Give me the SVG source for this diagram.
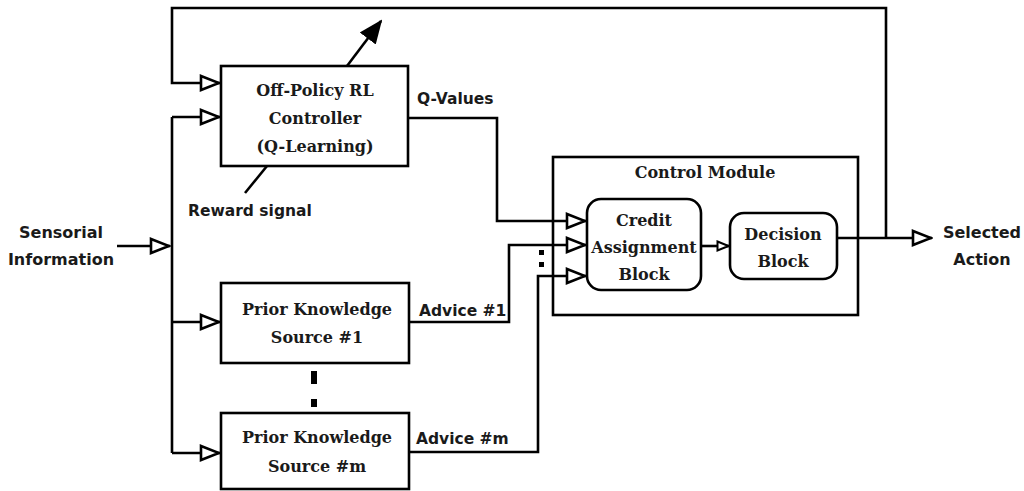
<svg xmlns="http://www.w3.org/2000/svg" width="1024" height="491" viewBox="0 0 1024 491">
<style>
.box{fill:#fff;stroke:#000;stroke-width:2.6}
.frame{fill:none;stroke:#000;stroke-width:2.6}
.ln{fill:none;stroke:#000;stroke-width:2.6}
.serif{font-family:"DejaVu Serif","Liberation Serif",serif;font-size:16px;font-weight:bold;text-anchor:middle;fill:#1a1a1a}
.sans{font-family:"DejaVu Sans","Liberation Sans",sans-serif;font-size:15.5px;font-weight:bold;fill:#1a1a1a}
.big{font-size:16px}
.mid{text-anchor:middle}
</style>
<defs>
<marker id="tri" viewBox="0 0 22 18" refX="21" refY="9" markerWidth="22" markerHeight="18" markerUnits="userSpaceOnUse" orient="auto">
<path d="M2,2 L20,9 L2,16 Z" fill="#fff" stroke="#000" stroke-width="2.6"/>
</marker>
<marker id="tris" viewBox="0 0 14 12" refX="13" refY="6" markerWidth="14" markerHeight="12" markerUnits="userSpaceOnUse" orient="auto">
<path d="M1.5,1.5 L12.5,6 L1.5,10.5 Z" fill="#fff" stroke="#000" stroke-width="2"/>
</marker>
<marker id="fill" viewBox="0 0 24 22" refX="22" refY="11" markerWidth="24" markerHeight="22" markerUnits="userSpaceOnUse" orient="auto">
<path d="M0,1 L24,11 L0,21 Z" fill="#000"/>
</marker>
</defs>

<g id="control-module">
<rect class="frame" x="553" y="157" width="305" height="158"/>
<text class="serif" x="705" y="178">Control Module</text>
</g>

<g id="rl-controller">
<rect class="box" x="221" y="66" width="187" height="100"/>
<text class="serif" x="315" y="96">Off-Policy RL</text>
<text class="serif" x="315" y="124">Controller</text>
<text class="serif" x="315" y="152">(Q-Learning)</text>
</g>

<g id="prior-1">
<rect class="box" x="221" y="283" width="188" height="80"/>
<text class="serif" x="317" y="315">Prior Knowledge</text>
<text class="serif" x="317" y="343">Source #1</text>
</g>

<g id="prior-m">
<rect class="box" x="221" y="413" width="188" height="76"/>
<text class="serif" x="317" y="443">Prior Knowledge</text>
<text class="serif" x="317" y="472">Source #m</text>
</g>

<g id="credit">
<rect class="box" x="587" y="199" width="114" height="91" rx="14"/>
<text class="serif" x="644" y="226">Credit</text>
<text class="serif" x="644" y="253">Assignment</text>
<text class="serif" x="644" y="280">Block</text>
</g>

<g id="decision">
<rect class="box" x="730" y="213" width="107" height="66" rx="14"/>
<text class="serif" x="783" y="240">Decision</text>
<text class="serif" x="783" y="267">Block</text>
</g>

<g id="connectors">
<path class="ln" d="M886,237 L886,8 L172,8 L172,83 L220,83" marker-end="url(#tri)"/>
<path class="ln" d="M117,246 L170,246" marker-end="url(#tri)"/>
<path class="ln" d="M172,117 L172,453"/>
<path class="ln" d="M172,117 L220,117" marker-end="url(#tri)"/>
<path class="ln" d="M172,322 L220,322" marker-end="url(#tri)"/>
<path class="ln" d="M172,453 L220,453" marker-end="url(#tri)"/>
<path class="ln" d="M408,118 L497,118 L497,221 L586,221" marker-end="url(#tri)"/>
<path class="ln" d="M409,322 L509,322 L509,245 L586,245" marker-end="url(#tri)"/>
<path class="ln" d="M409,452 L538,452 L538,276 L586,276" marker-end="url(#tri)"/>
<path class="ln" d="M701,246 L729,246" marker-end="url(#tris)"/>
<path class="ln" d="M837,238 L932,238" marker-end="url(#tri)"/>
<path class="ln" d="M267,166 L245,193"/>
<path class="ln" d="M347,66 L381,21" marker-end="url(#fill)"/>
<rect x="311" y="371" width="6" height="13" fill="#000"/>
<rect x="311" y="399" width="6" height="8" fill="#000"/>
<rect x="539" y="250" width="5" height="5" fill="#000"/>
<rect x="539" y="262" width="5" height="5" fill="#000"/>
</g>

<g id="labels">
<text class="sans big mid" x="61" y="238">Sensorial</text>
<text class="sans big mid" x="61" y="265">Information</text>
<text class="sans big mid" x="982" y="238">Selected</text>
<text class="sans big mid" x="982" y="265">Action</text>
<text class="sans" x="417" y="104">Q-Values</text>
<text class="sans" x="188" y="216">Reward signal</text>
<text class="sans" x="419" y="316">Advice #1</text>
<text class="sans" x="416" y="444">Advice #m</text>
</g>
</svg>
